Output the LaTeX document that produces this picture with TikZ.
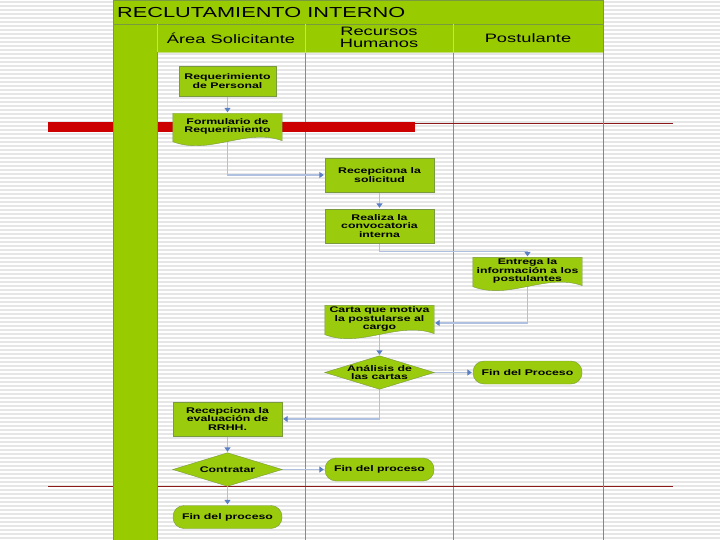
\documentclass[tikz,border=0pt]{standalone}
\usepackage{fontspec}
\setmainfont{Liberation Sans}[FakeStretch=1.5]
\usepackage{tikz}
\usetikzlibrary{arrows.meta, positioning, shapes.geometric, backgrounds}
\pgfdeclarelayer{background}
\pgfdeclarelayer{shapes}
\pgfsetlayers{background,shapes,main}
\definecolor{lanegreen}{HTML}{99CC00}
\definecolor{boxgreen}{HTML}{9ACB0C}
\definecolor{boxline}{HTML}{7A9A40}
\definecolor{laneline}{HTML}{8A8A8A}
\definecolor{headline}{HTML}{C4DE7A}
\definecolor{flowline}{HTML}{AFC0E0}
\definecolor{flowtip}{HTML}{5B7FC4}
\definecolor{barred}{HTML}{CC0000}
\definecolor{thinred}{HTML}{8B1A1A}
\definecolor{stripe}{HTML}{E6E6E6}

% wavy document outline drawn under a named node
\newcommand{\docshape}[1]{\draw[shapeline] (#1.north west) -- (#1.north east) -- ([yshift=-1pt]#1.south east) .. controls ([xshift=-36pt,yshift=12pt]#1.south east) and ([xshift=36pt,yshift=-16pt]#1.south west) .. ([yshift=-2pt]#1.south west) -- cycle;}
% diamond outline drawn under a named node
\newcommand{\decisionshape}[1]{\draw[shapeline] (#1.north) -- (#1.east) -- (#1.south) -- (#1.west) -- cycle;}

\begin{document}
\begin{tikzpicture}[
    x=1pt, y=-1pt,
    boxtext/.style={font={\fontsize{8.2}{8.6}\selectfont\bfseries}, align=center, inner sep=1pt},
    proc/.style={boxtext, rectangle, draw=boxline, fill=boxgreen, minimum width=109pt, minimum height=34pt},
    docnode/.style={boxtext, rectangle, minimum width=109pt, minimum height=26pt},
    decision/.style={boxtext, rectangle, minimum width=109pt, minimum height=33pt},
    term/.style={boxtext, rectangle, rounded corners=11pt, draw=boxline, fill=boxgreen, minimum width=109pt, minimum height=23pt},
    shapeline/.style={draw=boxline, fill=boxgreen},
    flow/.style={-{Triangle[width=6pt,length=4.5pt,color=flowtip]}, line width=1.2pt, color=flowline, shorten >=1pt},
    header/.style={font={\fontsize{12.2}{11.5}\selectfont}, align=center}
]
\useasboundingbox (0,0) rectangle (720,540);

% Slide background and pool
\begin{pgfonlayer}{background}
\fill[white] (0,0) rectangle (720,540);
\foreach \y in {2,6,...,538}
  \draw[stripe, line width=1.2pt] (0,\y) -- (720,\y);
\foreach \x in {305,453,603}
  \draw[laneline, line width=0.8pt] (\x,52) -- (\x,540);
\fill[barred] (48,122) rectangle (415,132);
\draw[thinred, line width=1pt] (415,123.5) -- (673,123.5);
\draw[thinred, line width=1pt] (48,486) -- (673,486);
\fill[lanegreen] (113,0) rectangle (603,52);
\fill[lanegreen] (113,0) rectangle (157,540);
\draw[boxline, line width=0.8pt] (113,0) rectangle (603,540);
\draw[boxline, line width=0.8pt] (113,24) -- (603,24);
\foreach \x in {157,305,453}
  \draw[headline, line width=0.8pt] (\x,24) -- (\x,52);
\draw[headline, line width=0.8pt] (157,52) -- (603,52);
\draw[laneline, line width=0.8pt] (157,52) -- (157,540);
\end{pgfonlayer}

% Title and lane headers
\node[anchor=west, font={\fontsize{14.5}{16}\selectfont}, inner sep=0pt] (title) at (117,12.5) {RECLUTAMIENTO INTERNO};
\node[header] (laneA) at (231,38) {Área Solicitante};
\node[header] (laneB) at (379,37.5) {Recursos\\Humanos};
\node[header] (laneC) at (528,38) {Postulante};

% Steps
\node[proc, minimum width=97pt, minimum height=30pt] (req) at (227.5,81) {Requerimiento\\de Personal};
\node[docnode] (form) at (227.5,126.5) {Formulario de\\Requerimiento};
\node[proc] (recep) at (379.5,175) {Recepciona la\\solicitud};
\node[proc] (conv) at (379.5,226) {Realiza la\\convocatoria\\interna};
\node[docnode] (entrega) at (527.5,271) {Entrega la\\información a los\\postulantes};
\node[docnode] (carta) at (379.5,319) {Carta que motiva\\la postularse al\\cargo};
\node[decision] (analisis) at (379.5,372.5) {Análisis de\\las cartas};
\node[term] (finpost) at (527.5,372.5) {Fin del Proceso};
\node[proc] (receval) at (227.5,419) {Recepciona la\\evaluación de\\RRHH.};
\node[decision] (contratar) at (227.5,469.5) {Contratar};
\node[term] (finrh) at (379.5,469.5) {Fin del proceso};
\node[term] (finarea) at (227.5,517) {Fin del proceso};

% Outlines of documents and decisions
\begin{pgfonlayer}{shapes}
\docshape{form}
\docshape{entrega}
\docshape{carta}
\decisionshape{analisis}
\decisionshape{contratar}
\end{pgfonlayer}

% Flows
\begin{pgfonlayer}{background}
\draw[flow] (req) -- (form);
\draw[flow] (form.south) |- (recep.west);
\draw[flow] (recep) -- (conv);
\draw[flow] (conv.south) -- ++(0,8) -| (entrega.north);
\draw[flow] (entrega.south) |- ([yshift=-4pt]carta.east);
\draw[flow] (carta.south) -- (analisis.north);
\draw[flow] (analisis.east) -- (finpost.west);
\draw[flow] (analisis.south) |- (receval.east);
\draw[flow] (receval) -- (contratar.north);
\draw[flow] (contratar.east) -- (finrh.west);
\draw[flow] (contratar.south) -- (finarea.north);
\end{pgfonlayer}
\end{tikzpicture}
\end{document}
